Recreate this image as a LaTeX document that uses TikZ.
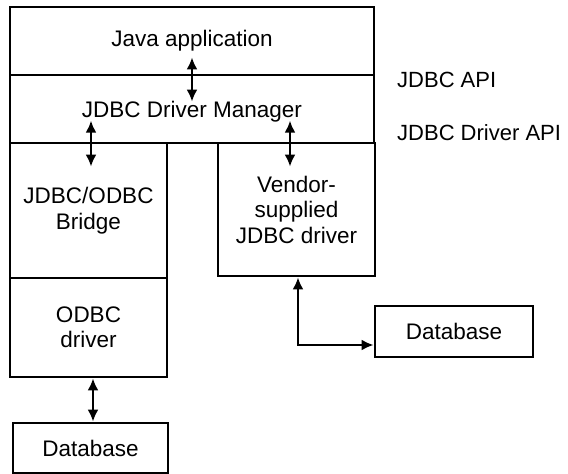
\documentclass[tikz,border=0pt]{standalone}
\usepackage{fontspec}
\setmainfont{Liberation Sans}
\usetikzlibrary{arrows.meta}
\begin{document}
\begin{tikzpicture}[x=1pt,y=-1pt,
  blk/.style={draw, line width=2.8pt, inner sep=0pt, align=center,
    font=\fontsize{22.5}{25.5}\selectfont},
  lbl/.style={inner sep=0pt, anchor=west, font=\fontsize{22}{25}\selectfont},
  conn/.style={line width=2.8pt, {Latex[length=12pt,width=11pt]}-{Latex[length=12pt,width=11pt]}}]
\useasboundingbox (0,0) rectangle (568,474);
\node[blk, minimum width=364pt, minimum height=68pt] (java) at (192,41) {Java application};
\node[blk, minimum width=364pt, minimum height=68pt, text depth=-4pt] (mgr) at (192,109) {JDBC Driver Manager};
\node[blk, minimum width=157pt, minimum height=135pt] (bridge) at (88.5,210.5) {JDBC/ODBC\\Bridge};
\node[blk, minimum width=157pt, minimum height=99pt] (odbc) at (88.5,327.5) {ODBC\\driver};
\node[blk, minimum width=157pt, minimum height=133pt] (vendor) at (296.5,209.5) {Vendor-\\supplied\\JDBC driver};
\node[blk, minimum width=155pt, minimum height=50pt] (db1) at (90.5,448) {Database};
\node[blk, minimum width=158pt, minimum height=51pt] (db2) at (454,331.5) {Database};
\node[lbl] (api) at (397,80) {JDBC API};
\node[lbl] (dapi) at (397,133) {JDBC Driver API};
\coordinate (c4) at (93,0);
\draw[conn] ([yshift=19pt]java.south) -- ([yshift=-28pt]mgr.north);
\draw[conn] ([xshift=2.5pt,yshift=21pt]bridge.north) -- ([xshift=2.5pt,yshift=-25pt]bridge.north);
\draw[conn] ([xshift=-6.5pt,yshift=21pt]vendor.north) -- ([xshift=-6.5pt,yshift=-25pt]vendor.north);
\draw[conn] (odbc.south -| c4) -- (db1.north -| c4);
\draw[conn] ([xshift=1.5pt]vendor.south) |- ([yshift=-13.5pt]db2.west);
\end{tikzpicture}
\end{document}
